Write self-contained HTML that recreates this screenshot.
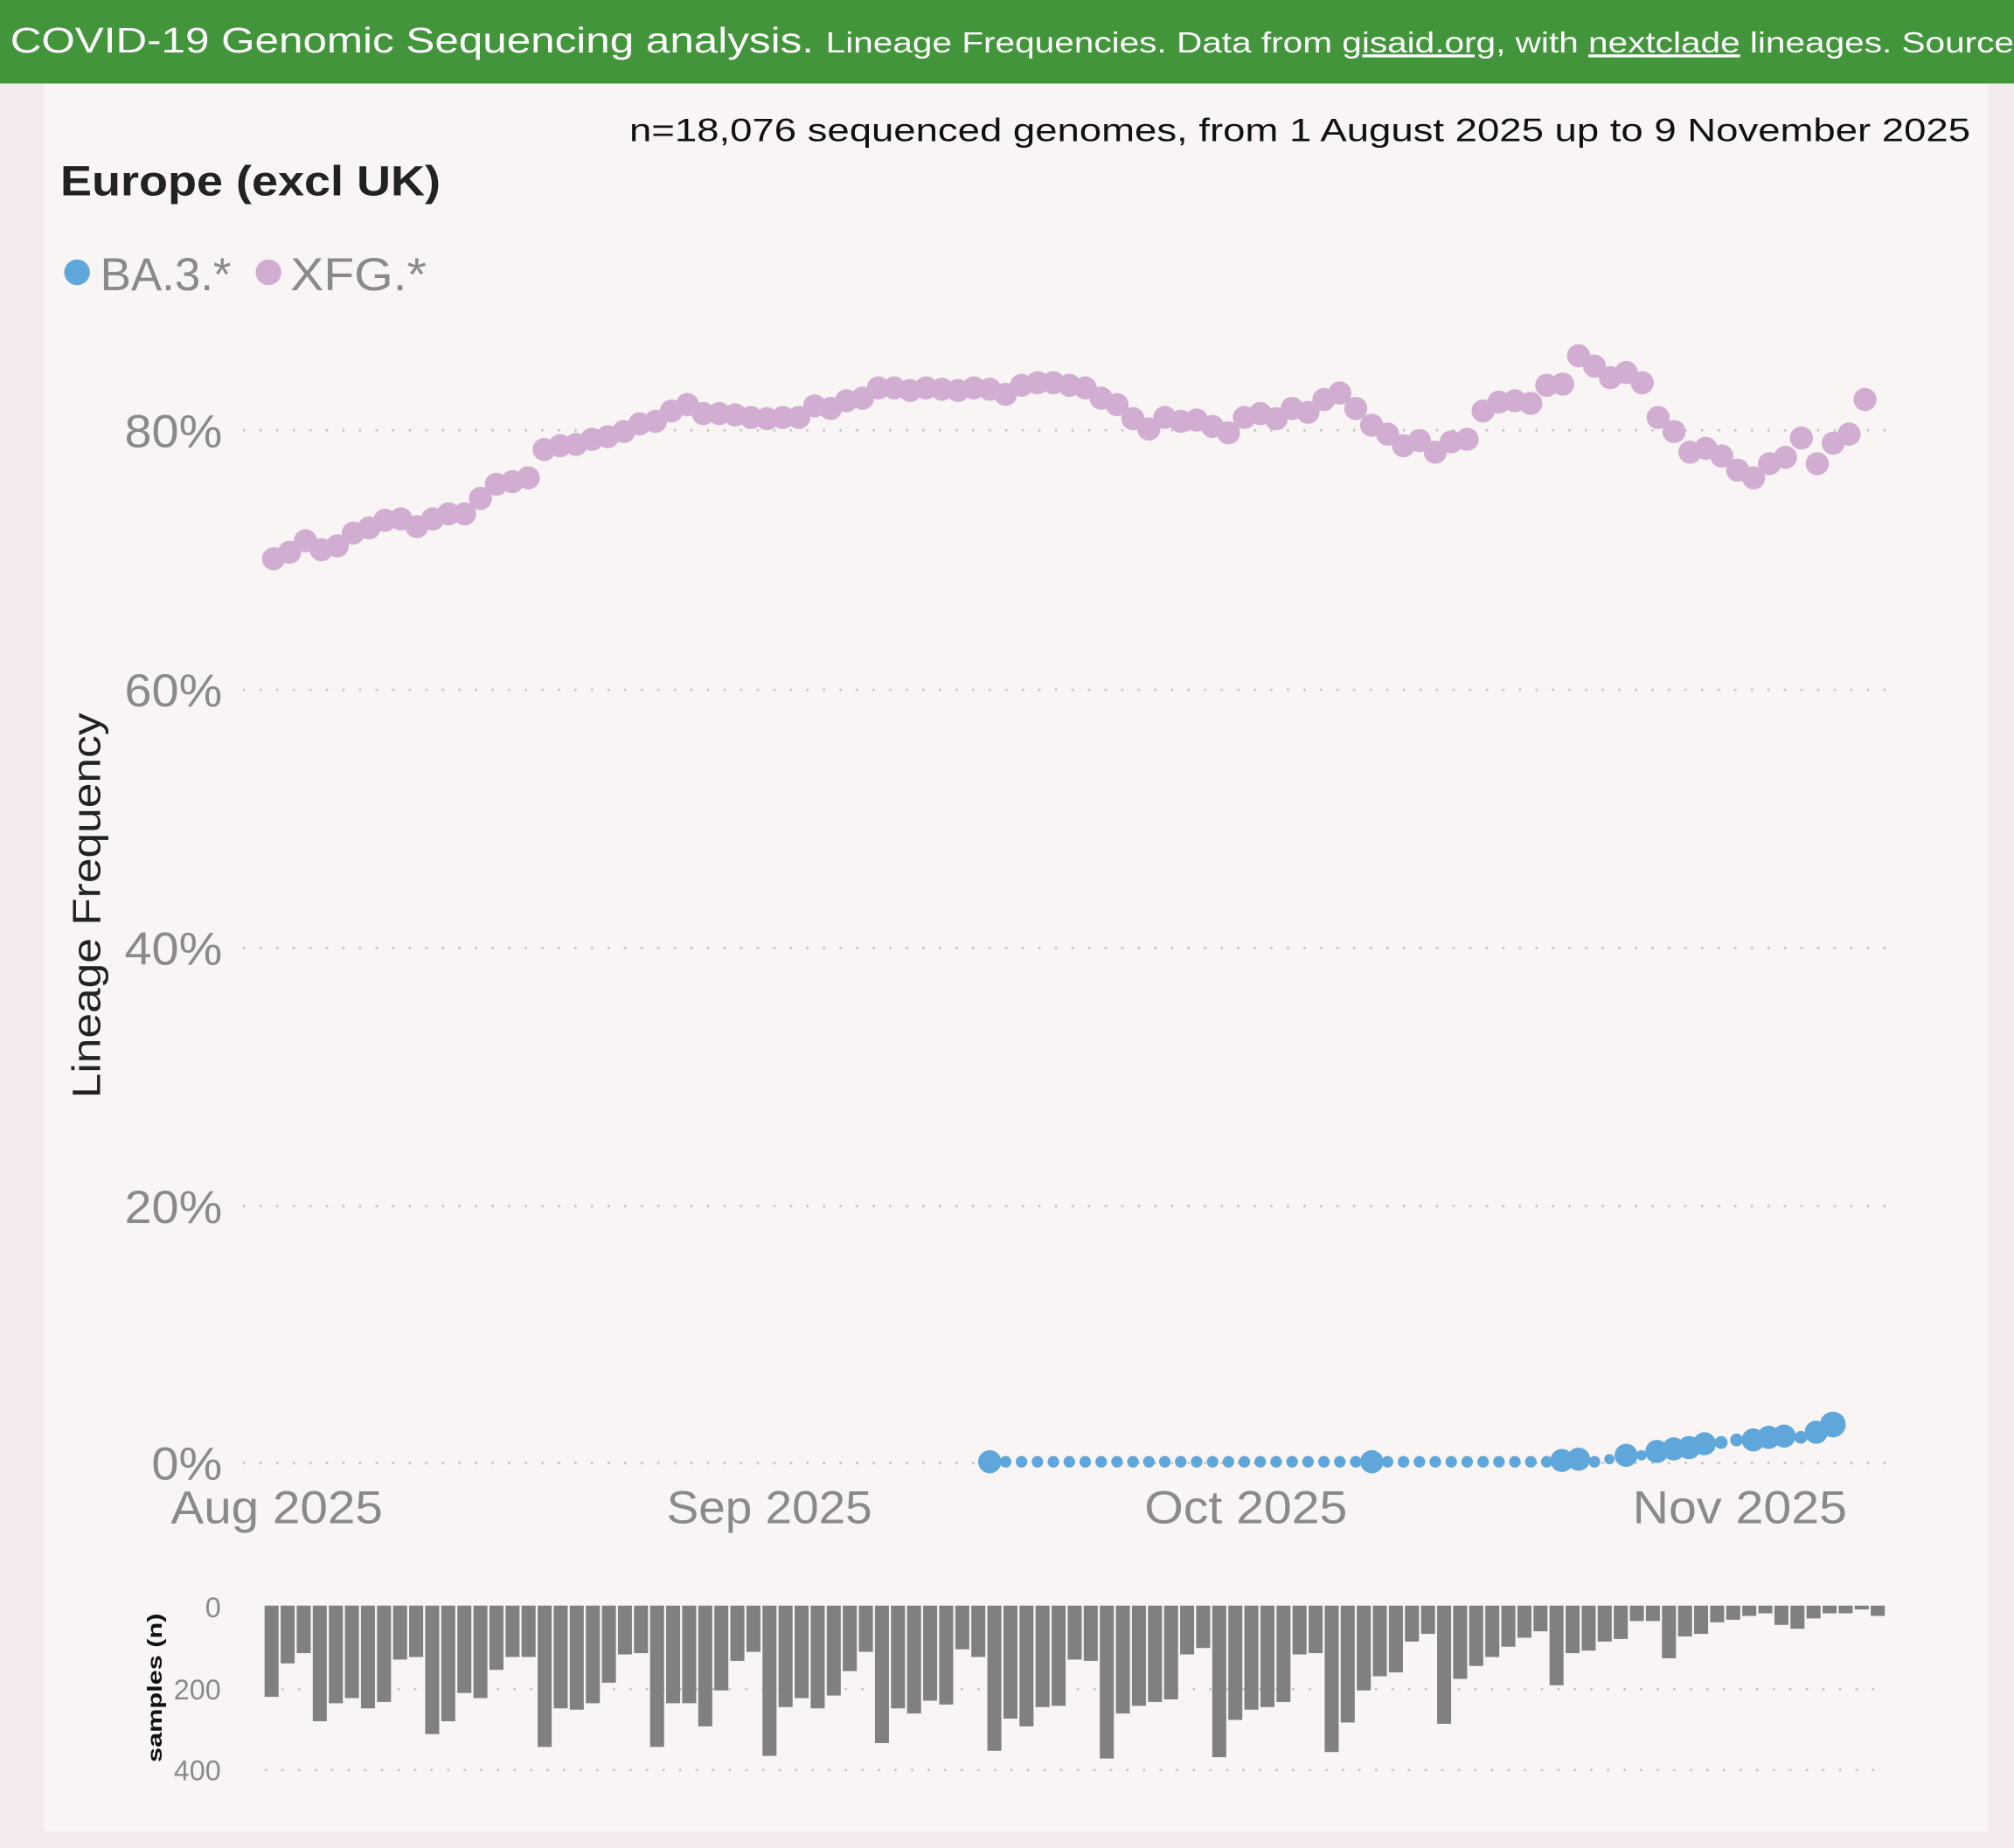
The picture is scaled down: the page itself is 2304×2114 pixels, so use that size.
<!DOCTYPE html>
<html><head><meta charset="utf-8"><style>
html,body{margin:0;padding:0;background:#f3ebeb;}
svg{display:block;}
text{font-family:"Liberation Sans",sans-serif;}
</style></head><body>
<svg id="s" xmlns="http://www.w3.org/2000/svg" width="2304" height="2114" viewBox="0 0 1568 1438.7" preserveAspectRatio="none">
<rect x="0" y="0" width="1568" height="1439" fill="#f3ebeb"/>
<rect x="34" y="64" width="1514" height="1362" fill="#f8f5f4"/>
<rect x="0" y="0" width="1568" height="65" fill="#43953c"/>
<text x="8" y="41" fill="#fff" font-size="28" textLength="1560" lengthAdjust="spacingAndGlyphs">COVID-19 Genomic Sequencing analysis. <tspan font-size="23">Lineage Frequencies. Data from <tspan text-decoration="underline">gisaid.org</tspan>, with <tspan text-decoration="underline">nextclade</tspan> lineages. Source</tspan></text>
<text x="490" y="110" fill="#111" font-size="25" textLength="1044" lengthAdjust="spacingAndGlyphs">n=18,076 sequenced genomes, from 1 August 2025 up to 9 November 2025</text>
<text x="47" y="152" fill="#222" font-size="33" font-weight="bold" textLength="296" lengthAdjust="spacingAndGlyphs">Europe (excl UK)</text>
<circle cx="60" cy="212" r="10" fill="#5fa6db"/>
<text x="78" y="226" fill="#8a8a8a" font-size="36" textLength="102" lengthAdjust="spacingAndGlyphs">BA.3.*</text>
<circle cx="209" cy="212" r="10" fill="#d2add2"/>
<text x="226" y="226" fill="#8a8a8a" font-size="36" textLength="106" lengthAdjust="spacingAndGlyphs">XFG.*</text>
<g id="grid" stroke="#c8c8c8" stroke-width="2" stroke-linecap="round" stroke-dasharray="0.1 12.8"></g>
<g fill="#8a8a8a" font-size="36" text-anchor="end">
<text x="173" y="1152" textLength="55" lengthAdjust="spacingAndGlyphs">0%</text>
<text x="173" y="952" textLength="76" lengthAdjust="spacingAndGlyphs">20%</text>
<text x="173" y="751" textLength="76" lengthAdjust="spacingAndGlyphs">40%</text>
<text x="173" y="550" textLength="76" lengthAdjust="spacingAndGlyphs">60%</text>
<text x="173" y="348" textLength="76" lengthAdjust="spacingAndGlyphs">80%</text>
</g>
<g fill="#8a8a8a" font-size="36">
<text x="133" y="1186" textLength="165" lengthAdjust="spacingAndGlyphs">Aug 2025</text>
<text x="519" y="1186" textLength="160" lengthAdjust="spacingAndGlyphs">Sep 2025</text>
<text x="891" y="1186" textLength="158" lengthAdjust="spacingAndGlyphs">Oct 2025</text>
<text x="1271" y="1186" textLength="167" lengthAdjust="spacingAndGlyphs">Nov 2025</text>
</g>
<text transform="translate(78,855) rotate(-90)" fill="#222" font-size="31" textLength="300" lengthAdjust="spacingAndGlyphs">Lineage Frequency</text>
<g fill="#8a8a8a" font-size="22" text-anchor="end">
<text x="172" y="1259">0</text><text x="172" y="1323">200</text><text x="172" y="1386">400</text>
</g>
<text transform="translate(126,1372) rotate(-90)" fill="#111" font-size="16" font-weight="bold" textLength="116" lengthAdjust="spacingAndGlyphs">samples (n)</text>
<g id="bars" fill="#808080"></g>
<g id="xfg" fill="#d2add2"></g>
<g id="ba" fill="#5fa6db"></g>
</svg>
<script>
var NS="http://www.w3.org/2000/svg";
function el(p,t,a){var e=document.createElementNS(NS,t);for(var k in a)e.setAttribute(k,a[k]);document.getElementById(p).appendChild(e);}
[1139,939,738,537,335].forEach(function(y){el("grid","line",{x1:190,x2:1470,y1:y,y2:y});});
[1315,1378].forEach(function(y){el("grid","line",{x1:207,x2:1470,y1:y,y2:y});});
var xs=[435,430,421,428,425,415,411,405,404,410,404,400,400,388,377,375,372,350,347,346,342,340,336,330,328,320,315,322,322,323,325,326,325,325,316,318,312,310,302,302,304,302,303,304,302,303,307,300,298,298,300,302,310,315,326,334,325,328,327,332,337,325,322,326,318,321,311,306,318,331,338,347,343,352,344,342,320,313,312,314,300,299,277,285,294,290,298,325,336,352,349,355,366,372,361,356,341,361,345,338,311];
var n=xs.length;
var step=(1452-213)/(n-1);
for(var i=0;i<n;i++){el("xfg","circle",{cx:213+i*step,cy:xs[i],r:9});}
var bars=[1321,1295,1287,1340,1326,1322,1330,1325,1292,1290,1350,1340,1318,1322,1300,1290,1290,1360,1330,1331,1326,1310,1288,1287,1360,1326,1326,1344,1316,1293,1286,1367,1329,1322,1330,1320,1301,1286,1357,1330,1334,1324,1327,1284,1290,1363,1338,1344,1329,1328,1292,1293,1369,1334,1328,1325,1323,1288,1283,1368,1339,1331,1329,1325,1288,1287,1364,1341,1316,1305,1302,1278,1272,1342,1307,1297,1290,1282,1275,1270,1312,1287,1285,1278,1276,1262,1262,1291,1274,1272,1263,1261,1258,1256,1265,1268,1260,1256,1256,1253,1258];
var bw=(1469-206)/bars.length;
for(var i=0;i<bars.length;i++){el("bars","rect",{x:206+i*bw,y:1250,width:bw-1.6,height:bars[i]-1250});}
var start=Math.round((770-213)/step);
for(var i=start;i<n;i++){
 var x=213+i*step;
 if(x>1245)break;
 el("ba","circle",{cx:x,cy:1138,r:(i==start?9:4.5)});
}
el("ba","circle",{cx:1068,cy:1138,r:9});
var big=[[1216,1137,9],[1229,1136,9],[1253,1136,4],[1266,1133,9],[1278,1133,4],[1290,1130,9],[1303,1128,9],[1315,1127,9],[1327,1124,9],[1340,1123,5],[1352,1121,5],[1365,1121,9],[1377,1119,9],[1389,1118,9],[1402,1119,5],[1414,1115,9],[1427,1109,10]];
big.forEach(function(b){el("ba","circle",{cx:b[0],cy:b[1],r:b[2]});});
</script>
</body></html>
